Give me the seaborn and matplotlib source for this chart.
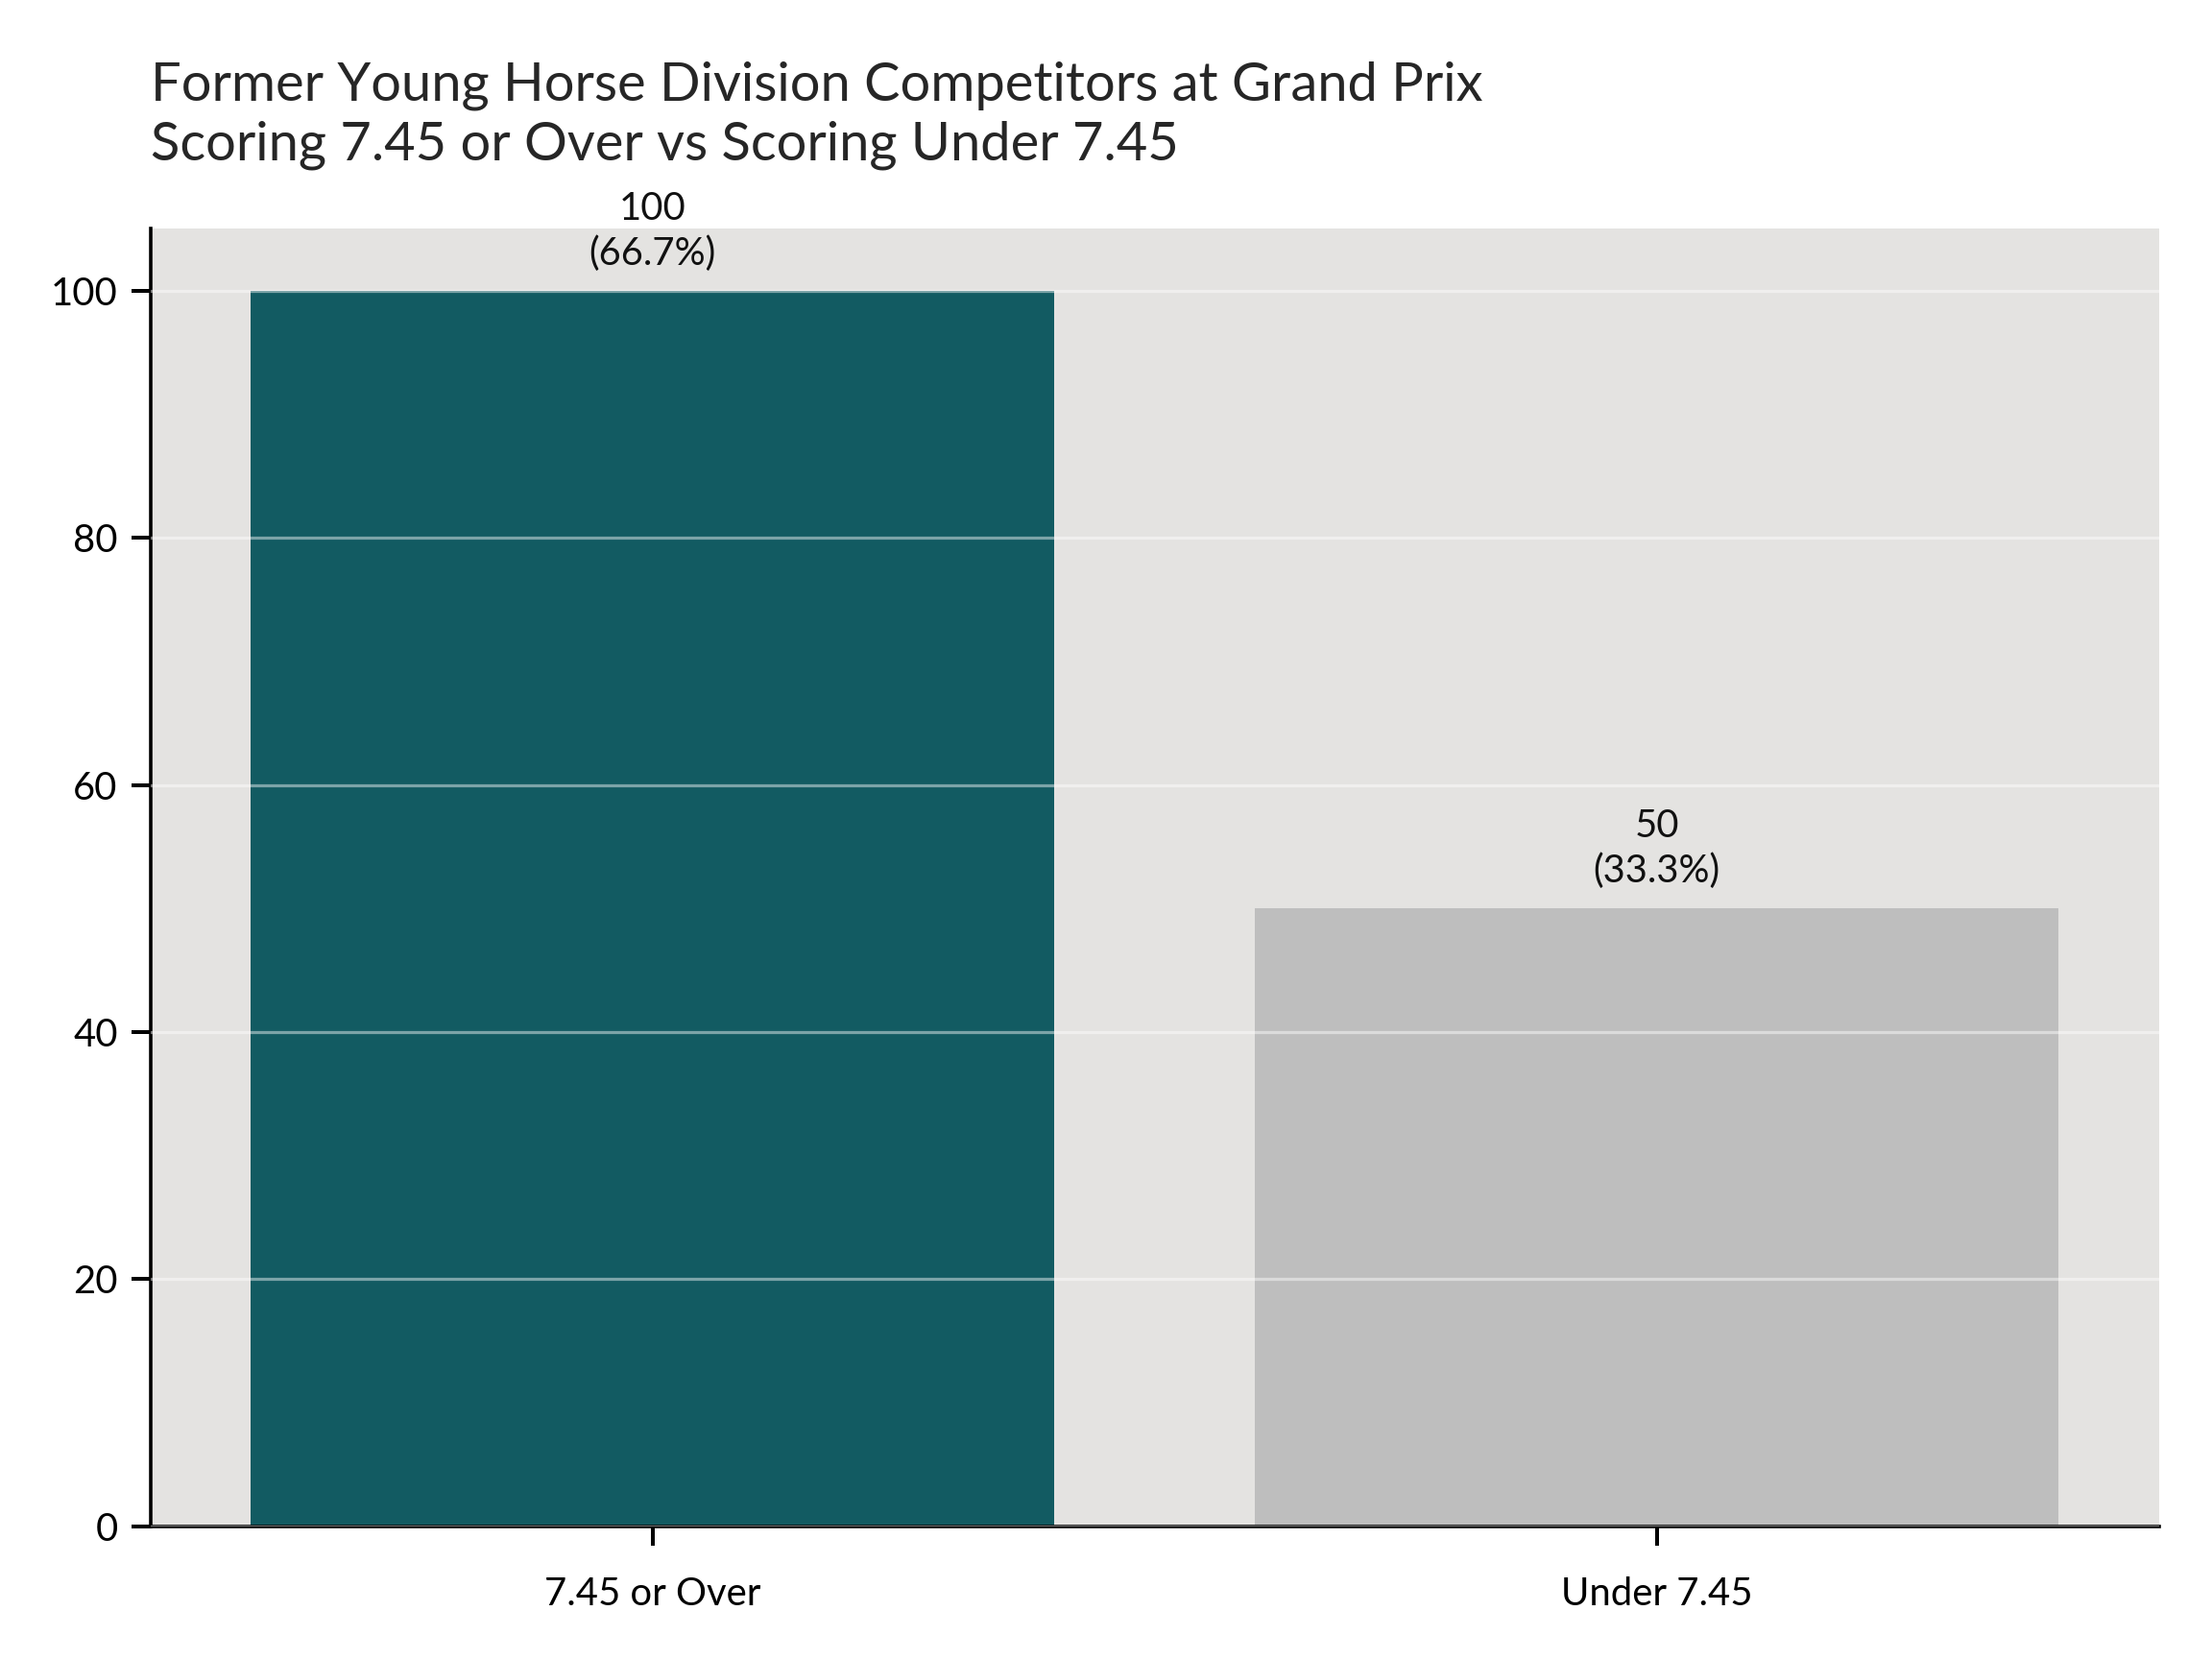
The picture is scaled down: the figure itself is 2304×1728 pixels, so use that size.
import matplotlib
matplotlib.use("Agg")
import matplotlib.pyplot as plt
import seaborn as sns
import pandas as pd

categories = ["7.45 or Over", "Under 7.45"]
counts = [100, 50]
bar_colors = ["#125b62", "#bebebe"]
title = "Former Young Horse Division Competitors at Grand Prix\nScoring 7.45 or Over vs Scoring Under 7.45"

df = pd.DataFrame({"group": categories, "count": counts})
total = sum(counts)

sns.set_theme(style="ticks")
plt.rcParams["font.family"] = ["Lato", "DejaVu Sans"]

fig = plt.figure(figsize=(8, 6), dpi=288)
ax = fig.add_axes([0.068, 0.080, 0.908, 0.782])
ax.set_facecolor("#e4e3e1")

sns.barplot(data=df, x="group", y="count", hue="group", palette=bar_colors,
            legend=False, width=0.8, saturation=1, linewidth=0, ax=ax)

for i, v in enumerate(counts):
    ax.annotate(f"{v}\n({v / total * 100:.1f}%)", (i, v), xytext=(0, 5),
                textcoords="offset points", ha="center", va="bottom",
                fontsize=10, linespacing=1.3, color="#111111")

ax.set_xlim(-0.5, 1.5)
ax.set_ylim(0, 105)
ax.set_yticks([0, 20, 40, 60, 80, 100])
ax.yaxis.grid(True, color="white", alpha=0.45, linewidth=0.8)
ax.set_axisbelow(False)
ax.set_xlabel("")
ax.set_ylabel("")
ax.tick_params(axis="both", labelsize=10, colors="black", length=5, width=1)
ax.tick_params(axis="x", pad=8)

for s in ["top", "right"]:
    ax.spines[s].set_visible(False)
for s in ["left", "bottom"]:
    ax.spines[s].set_color("black")
    ax.spines[s].set_linewidth(0.9)

ax.set_title(title, loc="left", fontsize=14, pad=18, linespacing=1.25)

fig.savefig("out.png", dpi=288, facecolor="white")
